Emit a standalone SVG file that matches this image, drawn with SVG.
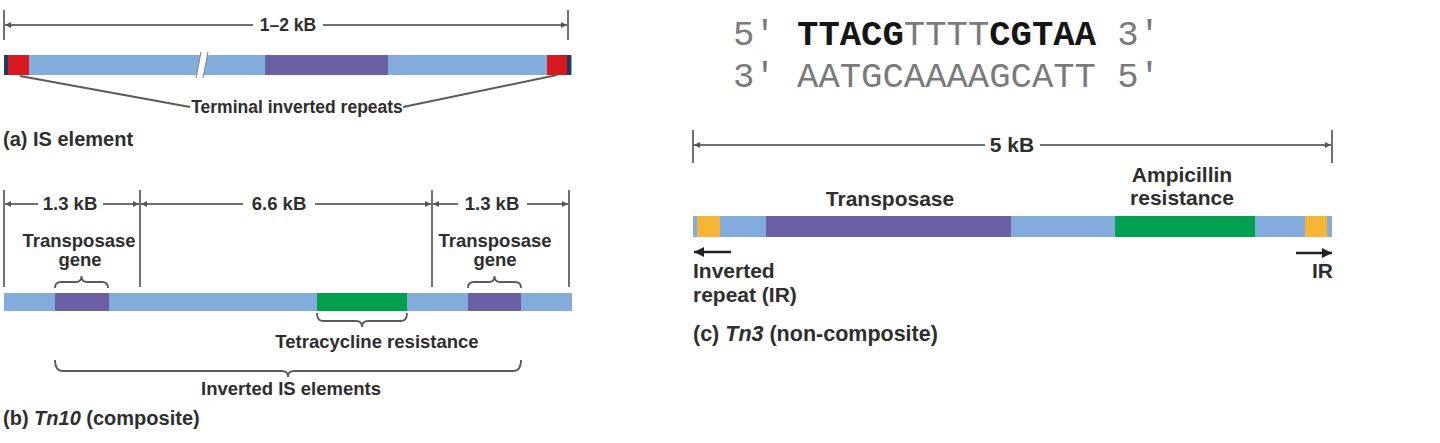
<svg xmlns="http://www.w3.org/2000/svg" width="1440" height="443" viewBox="0 0 1440 443">
<style>
  .t{font-family:"Liberation Sans",Arial,sans-serif;font-weight:bold;fill:#2e2e2e}
  .ta{font-size:17.5px}
  .tb{font-size:18.5px}
  .tc{font-size:21px}
  .lab{font-size:20px}
  .labc{font-size:21.5px}
  .dim{stroke:#707070;stroke-width:2;fill:none}
  .tick{stroke:#707070;stroke-width:2;fill:none}
  .con{stroke:#5a5a5a;stroke-width:2;fill:none}
  .brace{stroke:#5a5a5a;stroke-width:1.8;fill:none}
  .seq{font-family:"Liberation Mono","Courier New",monospace;font-size:35.6px;fill:#7a7a7a}
  .bold{font-weight:bold;fill:#151515}
  .lb{fill:#82acdc}.pu{fill:#6b5fa6}.rd{fill:#d7191f}.gr{fill:#00a04f}.ye{fill:#f6b535}.nv{fill:#22385c}
</style>
<defs>
  <marker id="dimArrow" markerUnits="userSpaceOnUse" markerWidth="7" markerHeight="6" refX="6" refY="3" orient="auto-start-reverse">
    <path d="M0,0 L6,3 L0,6 z" fill="#555"/>
  </marker>
  <marker id="irArrow" markerUnits="userSpaceOnUse" markerWidth="11" markerHeight="10" refX="10" refY="5" orient="auto">
    <path d="M0,0 L10,5 L0,10 z" fill="#222"/>
  </marker>
</defs>

<!-- (a) IS element -->
<g id="a-dimension">
  <line class="tick" x1="4" y1="10" x2="4" y2="40"/>
  <line class="tick" x1="568" y1="10" x2="568" y2="40"/>
  <line class="dim" x1="253" y1="25" x2="5" y2="25" marker-end="url(#dimArrow)"/>
  <line class="dim" x1="323" y1="25" x2="567" y2="25" marker-end="url(#dimArrow)"/>
  <text class="t ta" x="288" y="31" text-anchor="middle">1–2 kB</text>
</g>
<g id="a-bar">
  <rect class="lb" x="4" y="55" width="568" height="20"/>
  <rect class="pu" x="265" y="55" width="123" height="20"/>
  <rect class="nv" x="4" y="55" width="4" height="20"/>
  <rect class="rd" x="8" y="55" width="21" height="20"/>
  <rect class="rd" x="547" y="55" width="20" height="20"/>
  <rect class="nv" x="567" y="55" width="4" height="20"/>
  <polygon points="201,52 208,52 203,78 196,78" fill="#ffffff"/>
  <line x1="201" y1="52" x2="196" y2="78" stroke="#8a8a8a" stroke-width="1.2"/>
  <line x1="208" y1="52" x2="203" y2="78" stroke="#8a8a8a" stroke-width="1.2"/>
</g>
<g id="a-tir-label">
  <text class="t ta" x="297" y="113" text-anchor="middle">Terminal inverted repeats</text>
</g>
<g id="a-caption">
  <text class="t lab" x="3" y="146">(a) IS element</text>
</g>

<!-- (b) Tn10 -->
<g id="b-dimension">
  <line class="tick" x1="4" y1="190" x2="4" y2="287"/>
  <line class="tick" x1="140" y1="190" x2="140" y2="287"/>
  <line class="tick" x1="432" y1="190" x2="432" y2="287"/>
  <line class="tick" x1="569" y1="190" x2="569" y2="287"/>
  <line class="dim" x1="38" y1="204" x2="5" y2="204" marker-end="url(#dimArrow)"/>
  <line class="dim" x1="103" y1="204" x2="139" y2="204" marker-end="url(#dimArrow)"/>
  <line class="dim" x1="243" y1="204" x2="141" y2="204" marker-end="url(#dimArrow)"/>
  <line class="dim" x1="315" y1="204" x2="431" y2="204" marker-end="url(#dimArrow)"/>
  <line class="dim" x1="458" y1="204" x2="433" y2="204" marker-end="url(#dimArrow)"/>
  <line class="dim" x1="527" y1="204" x2="568" y2="204" marker-end="url(#dimArrow)"/>
  <text class="t tb" x="70" y="210" text-anchor="middle">1.3 kB</text>
  <text class="t tb" x="279" y="210" text-anchor="middle">6.6 kB</text>
  <text class="t tb" x="492" y="210" text-anchor="middle">1.3 kB</text>
</g>
<g id="b-transposase-left">
  <text class="t tb" x="79" y="247" text-anchor="middle">Transposase</text>
  <text class="t tb" x="80" y="266" text-anchor="middle">gene</text>
</g>
<g id="b-transposase-right">
  <text class="t tb" x="495" y="247" text-anchor="middle">Transposase</text>
  <text class="t tb" x="495" y="266" text-anchor="middle">gene</text>
</g>
<g id="b-bar">
  <rect class="lb" x="4" y="293" width="568" height="18"/>
  <rect class="pu" x="55" y="293" width="54" height="18"/>
  <rect class="gr" x="317" y="293" width="90" height="18"/>
  <rect class="pu" x="468" y="293" width="53" height="18"/>
</g>
<g id="b-tet-label">
  <text class="t tb" x="377" y="348" text-anchor="middle">Tetracycline resistance</text>
</g>
<g id="b-is-label">
  <text class="t tb" x="291" y="395" text-anchor="middle">Inverted IS elements</text>
</g>
<g id="b-caption">
  <text class="t lab" x="3" y="425">(b) <tspan font-style="italic">Tn10</tspan> (composite)</text>
</g>

<!-- sequence -->
<g id="sequence">
  <text class="seq" x="733" y="45" xml:space="preserve">5′ <tspan class="bold">TTACG</tspan>TTTT<tspan class="bold">CGTAA</tspan> 3′</text>
  <text class="seq" x="733" y="87" xml:space="preserve">3′ AATGCAAAAGCATT 5′</text>
</g>

<!-- (c) Tn3 -->
<g id="c-dimension">
  <line class="tick" x1="693" y1="130" x2="693" y2="163"/>
  <line class="tick" x1="1332" y1="130" x2="1332" y2="163"/>
  <line class="dim" x1="985" y1="145" x2="694" y2="145" marker-end="url(#dimArrow)"/>
  <line class="dim" x1="1040" y1="145" x2="1331" y2="145" marker-end="url(#dimArrow)"/>
  <text class="t tc" x="1012" y="152" text-anchor="middle">5 kB</text>
</g>
<g id="c-transposase-label">
  <text class="t tc" x="890" y="206" text-anchor="middle">Transposase</text>
</g>
<g id="c-amp-label">
  <text class="t tc" x="1182" y="182" text-anchor="middle">Ampicillin</text>
  <text class="t tc" x="1182" y="205" text-anchor="middle">resistance</text>
</g>
<g id="c-bar">
  <rect class="lb" x="693" y="216" width="639" height="21"/>
  <rect class="ye" x="697" y="216" width="23" height="21"/>
  <rect class="pu" x="766" y="216" width="245" height="21"/>
  <rect class="gr" x="1115" y="216" width="140" height="21"/>
  <rect class="ye" x="1305" y="216" width="22" height="21"/>
</g>
<g id="c-ir-left">
  <text class="t tc" x="693" y="278">Inverted</text>
  <text class="t tc" x="693" y="302">repeat (IR)</text>
</g>
<g id="c-ir-right">
  <text class="t tc" x="1333" y="278" text-anchor="end">IR</text>
</g>
<g id="c-caption">
  <text class="t labc" x="693" y="341">(c) <tspan font-style="italic">Tn3</tspan> (non-composite)</text>
</g>

<!-- connectors -->
<g id="connectors">
  <line class="con" x1="20" y1="76" x2="190" y2="107"/>
  <line class="con" x1="557" y1="75" x2="403" y2="107"/>
  <path class="brace" d="M55,288 Q55,282 61,282 L76,282 Q81.5,282 81.5,276 Q81.5,282 87,282 L102,282 Q108,282 108,288"/>
  <path class="brace" d="M468,288 Q468,282 474,282 L489,282 Q494.5,282 494.5,276 Q494.5,282 500,282 L515,282 Q521,282 521,288"/>
  <path class="brace" d="M317,313 Q317,321 323,321 L356,321 Q362,321 362,327 Q362,321 368,321 L401,321 Q407,321 407,313"/>
  <path class="brace" d="M55,360 Q55,371 63,371 L282,371 Q288,371 288,377 Q288,371 294,371 L513,371 Q521,371 521,360"/>
  <line x1="731" y1="252" x2="694" y2="252" stroke="#222" stroke-width="2.5" marker-end="url(#irArrow)"/>
  <line x1="1296" y1="253" x2="1332" y2="253" stroke="#222" stroke-width="2.5" marker-end="url(#irArrow)"/>
</g>
</svg>
